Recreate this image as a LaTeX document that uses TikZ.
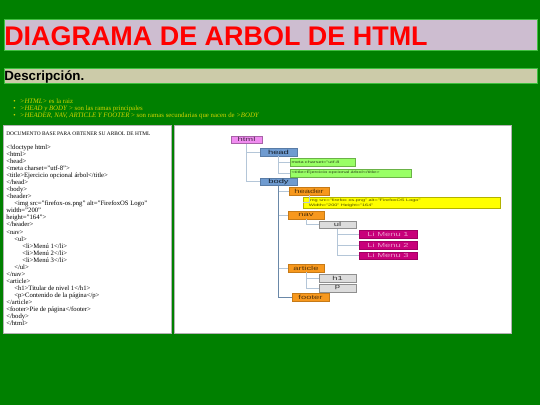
\documentclass[tikz,border=0pt]{standalone}
\usepackage{fontspec}
\setmainfont{Liberation Serif}
\setsansfont{Liberation Sans}
\newfontfamily\treefont[FakeStretch=1.6]{Liberation Sans}
\usetikzlibrary{positioning}
\definecolor{bggreen}{HTML}{008000}
\definecolor{titlebg}{HTML}{CDBDD0}
\definecolor{descbg}{HTML}{CCCBA9}
\definecolor{bullet}{HTML}{D2D400}
\definecolor{pinkf}{HTML}{F08CF0}
\definecolor{bluef}{HTML}{6F9BD0}
\definecolor{greenf}{HTML}{99FF66}
\definecolor{orangef}{HTML}{F7981D}
\definecolor{yellowf}{HTML}{FFFF00}
\definecolor{grayf}{HTML}{DCDCDC}
\definecolor{magf}{HTML}{C8007A}
\definecolor{linec}{HTML}{B4C6D8}
\definecolor{linedark}{HTML}{6A88A8}
\newcommand\tnode[7]{\node[#2, minimum width={(#5-#3)*0.75pt}, minimum height={(#6-#4)*0.75pt}] (#1) at ({(#3+#5)/2},{(#4+#6)/2}) {#7};}
\tikzset{
  tbox/.style={draw, line width=0.4pt, inner sep=0pt, font=\treefont\fontsize{4.4}{5}\selectfont},
  pinkbox/.style={tbox, fill=pinkf, draw=pinkf!70!black, text=pinkf!30!black},
  bluebox/.style={tbox, fill=bluef, draw=bluef!80!black, text=bluef!20!black},
  greenbox/.style={tbox, fill=greenf, draw=greenf!70!black, text=greenf!30!black, font=\treefont\fontsize{2.6}{3}\selectfont, align=left, text width={(#1)*0.75pt}},
  greenbox/.default=40,
  orangebox/.style={tbox, fill=orangef, draw=orangef!80!black, text=orangef!35!black},
  yellowbox/.style={tbox, fill=yellowf, draw=yellowf!70!black, text=yellowf!30!black, font=\treefont\fontsize{2.6}{3.6}\selectfont, align=left},
  graybox/.style={tbox, fill=grayf, draw=grayf!65!black, text=grayf!25!black},
  magbox/.style={tbox, fill=magf, draw=magf!80!black, text=magf!40!white},
  conn/.style={draw=linec, line width=0.6pt},
  conndark/.style={draw=linedark, line width=0.6pt},
  panel/.style={fill=white, draw=gray!60, line width=0.4pt},
  codetext/.style={anchor=north west, inner sep=0pt, align=left, font=\rmfamily\fontsize{5}{5.29}\selectfont, text=black},
  bul/.style={anchor=west, inner sep=0pt, font=\rmfamily\fontsize{5.1}{6}\selectfont, text=bullet},
}
\begin{document}
\begin{tikzpicture}[x=0.75pt, y=-0.75pt]
\useasboundingbox[fill=bggreen] (0,0) rectangle (540,405);
% title
\node[draw=gray!50!green, line width=0.5pt, fill=titlebg, inner sep=0pt, minimum width={533*0.75pt}, minimum height={31*0.75pt}] (titlebox) at (270.5,34.5) {};
\node[anchor=base west, inner sep=0pt, text=red, font=\sffamily\bfseries\fontsize{20.2}{24}\selectfont] (title) at (4,45) {DIAGRAMA DE ARBOL DE HTML};
% descripcion
\node[draw=gray!50!green, line width=0.5pt, fill=descbg, inner sep=0pt, minimum width={533*0.75pt}, minimum height={15*0.75pt}] (descbox) at (270.5,76) {};
\node[anchor=base west, inner sep=0pt, text=black, font=\sffamily\bfseries\fontsize{10}{12}\selectfont] (desc) at (4,80.5) {Descripción.};
% bullets
\node[bul] (b1) at (13,101) {\textbullet\hspace{3.2pt}\textit{>HTML>} es la raiz};
\node[bul] (b2) at (13,108.5) {\textbullet\hspace{3.2pt}\textit{>HEAD y BODY} > son las ramas principales};
\node[bul] (b3) at (13,116) {\textbullet\hspace{3.2pt}\textit{>HEADER, NAV, ARTICLE Y FOOTER} > son ramas secundarias que nacen de \textit{>BODY}};
% panels
\node[panel, inner sep=0pt, minimum width={168*0.75pt}, minimum height={208*0.75pt}] (leftpanel) at (87.5,229) {};
\node[panel, inner sep=0pt, minimum width={337*0.75pt}, minimum height={208*0.75pt}] (rightpanel) at (342.5,229) {};
% code
\node[anchor=west, inner sep=0pt, font=\rmfamily\fontsize{4.05}{5}\selectfont] (doc) at (6,133.5) {DOCUMENTO BASE PARA OBTENER SU ARBOL DE HTML};
\node[codetext] (code) at (6,144.5) {%
<!doctype html>\\
<html>\\
<head>\\
<meta charset="utf-8">\\
<title>Ejercicio opcional árbol</title>\\
</head>\\
<body>\\
<header>\\
\hspace*{6pt}<img src="firefox-os.png" alt="FirefoxOS Logo"\\
width="200"\\
height="164">\\
</header>\\
<nav>\\
\hspace*{6pt}<ul>\\
\hspace*{12pt}<li>Menú 1</li>\\
\hspace*{12pt}<li>Menú 2</li>\\
\hspace*{12pt}<li>Menú 3</li>\\
\hspace*{6pt}</ul>\\
</nav>\\
<article>\\
\hspace*{6pt}<h1>Titular de nivel 1</h1>\\
\hspace*{6pt}<p>Contenido de la página</p>\\
</article>\\
<footer>Pie de página</footer>\\
</body>\\
</html>};
% tree nodes
\tnode{html}{pinkbox}{231}{136}{262}{143.5}{html}
\tnode{head}{bluebox}{260}{148}{297}{156}{head}
\tnode{meta}{greenbox=62}{290}{158.5}{355}{166}{meta charset="utf-8}
\tnode{titl}{greenbox=118}{290}{169}{411}{177}{<title>Ejercicio opcional árbol</title>}
\tnode{body}{bluebox}{260}{178}{297}{185.5}{body}
\tnode{header}{orangebox}{289}{187.5}{329}{195}{header}
\tnode{img}{yellowbox}{317}{197}{487}{208.5}{\hspace*{4pt}img src="firefox os.png" alt="FirefoxOS Logo"\hspace*{60pt}\\\hspace*{4pt}Width="200" Height="164"}
\tnode{nav}{orangebox}{288}{211.5}{324}{219}{nav}
\tnode{ul}{graybox}{319}{221}{356}{228.5}{ul}
\tnode{li1}{magbox}{359}{230}{417}{238}{Li Menu 1}
\tnode{li2}{magbox}{359}{241.5}{417}{249}{Li Menu 2}
\tnode{li3}{magbox}{359}{252}{417}{259.5}{Li Menu 3}
\tnode{article}{orangebox}{288}{264.5}{324}{272}{article}
\tnode{h1}{graybox}{319}{274}{356}{282}{h1}
\tnode{p}{graybox}{319}{284}{356}{292}{p}
\tnode{footer}{orangebox}{292}{293.5}{329}{301}{footer}
% connectors
\begin{scope}[on background layer/.try]
\end{scope}
\draw[conn] (html.south) |- (head.west);
\draw[conn] (html.south) |- (body.west);
\draw[conn] (head.south) |- (meta.west);
\draw[conn] (head.south) |- (titl.west);
\draw[conndark] (body.south) |- (footer.west);
\draw[conn] (body.south |- header.west) -- (header.west);
\draw[conn] (body.south |- nav.west) -- (nav.west);
\draw[conn] (body.south |- article.west) -- (article.west);
\draw[conn] (header.south) |- (img.west);
\draw[conn] (nav.south) |- (ul.west);
\draw[conn] (ul.south) |- (li1.west);
\draw[conn] (ul.south) |- (li2.west);
\draw[conn] (ul.south) |- (li3.west);
\draw[conn] (article.south) |- (h1.west);
\draw[conn] (article.south) |- (p.west);
\end{tikzpicture}
\end{document}
